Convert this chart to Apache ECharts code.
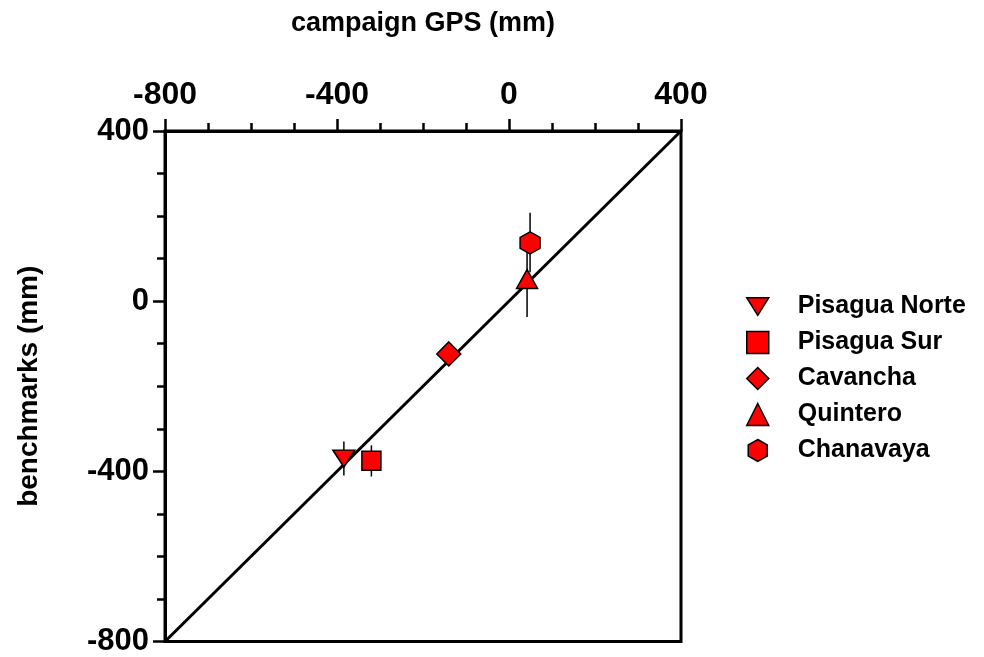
<!DOCTYPE html>
<html>
<head>
<meta charset="utf-8">
<script src="https://cdn.jsdelivr.net/npm/echarts@6/dist/echarts.min.js"></script>
<style>
html,body{margin:0;padding:0;background:#fff;}
#main{width:984px;height:657px;}
</style>
</head>
<body>
<div id="main"></div>
<script>
// ---- data ----
var sites = ['Pisagua Norte', 'Pisagua Sur', 'Cavancha', 'Quintero', 'Chanavaya'];
var campaignGPS = [-384, -320, -140, 42, 49];
var benchmarks = [-370, -375, -124, 52, 137];
var errLow = [-410, -412, null, -37, 68];
var errHigh = [-330, -339, null, 132, 208];
var lineOfEquality = [[-800, -800], [400, 400]];
var axisMin = -800, axisMax = 400, axisStep = 400;

var symbols = [
  'path://M0,0 L10,0 L5,8 Z',
  'rect',
  'diamond',
  'triangle',
  'path://M5,0 L9.33,2.5 L9.33,7.5 L5,10 L0.67,7.5 L0.67,2.5 Z'
];
var symbolSizes = [[22, 17], 19, 24, [21, 19], [20, 22]];

var FONT = '"Liberation Sans", Arial, sans-serif';
var chart = echarts.init(document.getElementById('main'), null, {renderer: 'canvas'});

var errData = [];
for (var i = 0; i < sites.length; i++) {
  if (errLow[i] !== null) errData.push([campaignGPS[i], errLow[i], errHigh[i]]);
}

var series = [
  {
    type: 'line',
    data: lineOfEquality,
    symbol: 'none',
    lineStyle: {color: '#000', width: 3},
    silent: true,
    z: 1,
    legendHoverLink: false
  },
  {
    type: 'custom',
    data: errData,
    z: 2,
    silent: true,
    renderItem: function (params, api) {
      var p1 = api.coord([api.value(0), api.value(1)]);
      var p2 = api.coord([api.value(0), api.value(2)]);
      return {
        type: 'line',
        shape: {x1: p1[0], y1: p1[1], x2: p2[0], y2: p2[1]},
        style: {stroke: '#000', lineWidth: 1.5}
      };
    }
  }
];
for (var k = 0; k < sites.length; k++) {
  series.push({
    name: sites[k],
    type: 'scatter',
    data: [[campaignGPS[k], benchmarks[k]]],
    symbol: symbols[k],
    symbolSize: symbolSizes[k],
    itemStyle: {color: '#ff0000', borderColor: '#000', borderWidth: 1.5, opacity: 1},
    z: 3
  });
}

var legendData = sites.map(function (s, k) {
  return {name: s, icon: symbols[k]};
});

chart.setOption({
  animation: false,
  backgroundColor: '#fff',
  grid: {left: 165, right: 303, top: 131, bottom: 13, show: true, borderColor: '#000', borderWidth: 3, backgroundColor: 'transparent'},
  legend: {
    data: legendData,
    orient: 'vertical',
    left: 741,
    top: 289,
    itemWidth: 22,
    itemHeight: 22,
    itemGap: 11,
    itemStyle: {color: '#ff0000', borderColor: '#000', borderWidth: 1.5},
    textStyle: {fontFamily: FONT, fontWeight: 'bold', fontSize: 25, color: '#000', lineHeight: 22, padding: [0, 0, 0, 24]},
    selectedMode: false
  },
  xAxis: {
    type: 'value',
    position: 'top',
    min: axisMin, max: axisMax, interval: axisStep,
    name: 'campaign GPS (mm)',
    nameLocation: 'middle',
    nameGap: 94,
    nameTextStyle: {fontFamily: FONT, fontWeight: 'bold', fontSize: 27, color: '#000'},
    axisLine: {show: true, onZero: false, lineStyle: {color: '#000', width: 3}},
    axisTick: {show: true, length: 12, lineStyle: {color: '#000', width: 2.5}},
    minorTick: {show: true, splitNumber: 4, length: 8, lineStyle: {color: '#000', width: 2.5}},
    splitLine: {show: false},
    axisLabel: {fontFamily: FONT, fontWeight: 'bold', fontSize: 32, color: '#000', margin: 20}
  },
  yAxis: {
    type: 'value',
    min: axisMin, max: axisMax, interval: axisStep,
    name: 'benchmarks (mm)',
    nameLocation: 'middle',
    nameRotate: 90,
    nameGap: 122,
    nameTextStyle: {fontFamily: FONT, fontWeight: 'bold', fontSize: 28, color: '#000'},
    axisLine: {show: true, onZero: false, lineStyle: {color: '#000', width: 3}},
    axisTick: {show: true, length: 12, lineStyle: {color: '#000', width: 2.5}},
    minorTick: {show: true, splitNumber: 4, length: 8, lineStyle: {color: '#000', width: 2.5}},
    splitLine: {show: false},
    axisLabel: {fontFamily: FONT, fontWeight: 'bold', fontSize: 31, color: '#000', margin: 16}
  },
  series: series
});
</script>
</body>
</html>
